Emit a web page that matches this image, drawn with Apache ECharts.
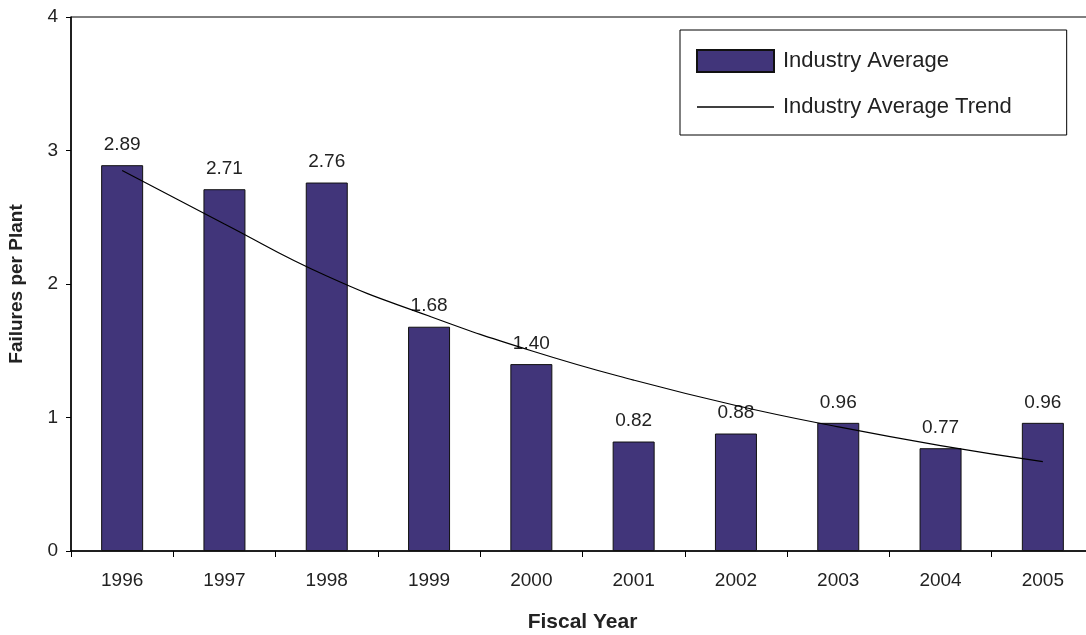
<!DOCTYPE html>
<html>
<head>
<meta charset="utf-8">
<script src="https://cdn.jsdelivr.net/npm/echarts@6/dist/echarts.min.js"></script>
<style>
  html, body { margin: 0; padding: 0; background: #fff; }
  #chart { width: 1086px; height: 635px; }
</style>
</head>
<body>
<div id="chart"></div>
<script>
// data
const years = ['1996', '1997', '1998', '1999', '2000', '2001', '2002', '2003', '2004', '2005']
const industryAverage = [2.89, 2.71, 2.76, 1.68, 1.40, 0.82, 0.88, 0.96, 0.77, 0.96]
// trend line, estimated at each year
const averageTrend = [2.85, 2.45, 2.06, 1.76, 1.50, 1.28, 1.09, 0.93, 0.79, 0.67]
const yTicks = [0, 1, 2, 3, 4]

const chart = echarts.init(document.getElementById('chart'))

const font = 'Liberation Sans, Arial, sans-serif'
const ink = '#222'

const option = {
  animation: false,
  textStyle: { fontFamily: font },
  grid: {
    left: 71,
    top: 17,
    width: 1023,
    height: 534,
    outerBoundsMode: 'none',
    show: true,
    borderColor: '#000',
    borderWidth: 1
  },
  legend: {
    orient: 'vertical',
    left: 680,
    top: 30,
    padding: [19, 55, 17, 16],
    itemWidth: 77,
    itemHeight: 22,
    itemGap: 23,
    borderColor: '#000',
    borderWidth: 1,
    textStyle: { fontSize: 22, color: ink, fontFamily: font, padding: [0, 0, 0, 4] },
    data: [
      { name: 'Industry Average', icon: 'rect' },
      { name: 'Industry Average Trend', icon: 'path://M0,0 L77,0 L77,1.4 L0,1.4 Z' }
    ]
  },
  xAxis: {
    type: 'category',
    data: years,
    name: 'Fiscal Year',
    nameLocation: 'middle',
    nameGap: 61,
    nameTextStyle: { fontSize: 21, fontWeight: 'bold', color: ink, fontFamily: font },
    axisLine: { lineStyle: { color: '#000', width: 1.5 } },
    axisTick: { show: true, length: 6, lineStyle: { color: '#000' } },
    axisLabel: { fontSize: 19, color: ink, margin: 20, fontFamily: font }
  },
  yAxis: {
    type: 'value',
    min: yTicks[0],
    max: yTicks[yTicks.length - 1],
    interval: 1,
    name: 'Failures per Plant',
    nameLocation: 'middle',
    nameGap: 45,
    nameTextStyle: { fontSize: 19, fontWeight: 'bold', color: ink, fontFamily: font },
    splitLine: { show: false },
    axisLine: { show: true, lineStyle: { color: '#000', width: 1.5 } },
    axisTick: { show: true, length: 5, lineStyle: { color: '#000' } },
    axisLabel: { fontSize: 19, color: ink, margin: 13, fontFamily: font }
  },
  series: [
    {
      name: 'Industry Average',
      type: 'bar',
      data: industryAverage,
      barWidth: 42,
      itemStyle: { color: '#41357A', borderColor: '#111', borderWidth: 1 },
      label: {
        show: true,
        position: 'top',
        distance: 11,
        fontSize: 19,
        color: ink,
        fontFamily: font,
        formatter: (p) => p.value.toFixed(2)
      }
    },
    {
      name: 'Industry Average Trend',
      type: 'line',
      data: averageTrend,
      smooth: true,
      symbol: 'none',
      z: 5,
      itemStyle: { color: '#000' },
      lineStyle: { color: '#000', width: 1.2 }
    }
  ]
}

chart.setOption(option)
</script>
</body>
</html>
